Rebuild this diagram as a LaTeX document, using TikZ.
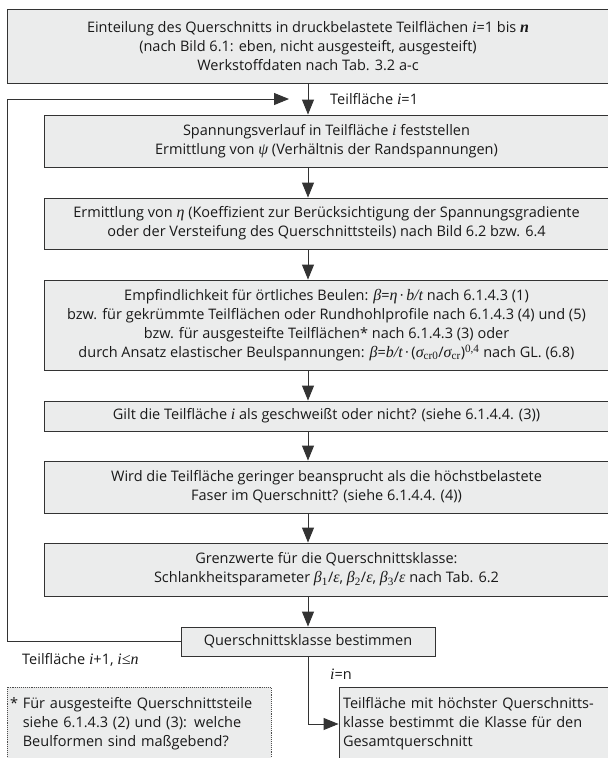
\documentclass[tikz,border=0pt]{standalone}
\usepackage{fontspec}
\usetikzlibrary{arrows.meta}
\setmainfont{Open Sans}
\newfontfamily\varfont[Scale=1.1]{Liberation Serif}
\newcommand{\mv}[1]{{\varfont\itshape #1}}
\newcommand{\up}[1]{{\varfont #1}}
\newcommand{\boxfont}{\fontsize{14.5}{19}\selectfont}
\definecolor{boxgray}{HTML}{EBECEC}
\definecolor{linegray}{HTML}{333333}

\begin{document}
\begin{tikzpicture}[x=1pt, y=-1pt,
	stepbox/.style={draw=linegray, fill=boxgray, line width=0.9pt, align=center, inner sep=0pt, font=\boxfont, text=black!90},
	flow/.style={draw=linegray, line width=0.9pt, -{Triangle[length=15pt, width=12pt]}},
	lbl/.style={font=\boxfont, anchor=west, inner sep=0pt, text=black!90}]
	\useasboundingbox (0,0) rectangle (608,758);
	% Ablauf: Querschnittsklasse je Teilflaeche
	\coordinate (axis) at (308,0);
	\node[stepbox, minimum width=602, minimum height=74] (einteilung) at (308,46) {Einteilung des Querschnitts in druckbelastete Teilflächen \mv{i}=1 bis \mv{\bfseries n}\\(nach Bild 6.1: eben, nicht ausgesteift, ausgesteift)\\Werkstoffdaten nach Tab. 3.2 a-c};
	\node[stepbox, minimum width=565, minimum height=52] (spannung) at (326.5,141) {Spannungsverlauf in Teilfläche \mv{i} feststellen\\Ermittlung von \mv{ψ} (Verhältnis der Randspannungen)};
	\node[stepbox, minimum width=565, minimum height=51] (eta) at (326.5,223.5) {Ermittlung von \mv{η} (Koeffizient zur Berücksichtigung der Spannungsgradiente\\oder der Versteifung des Querschnittsteils) nach Bild 6.2 bzw. 6.4};
	\node[stepbox, minimum width=565, minimum height=90] (beulen) at (326.5,325) {Empfindlichkeit für örtliches Beulen: \mv{β}=\mv{η}\,·\,\mv{b/t} nach 6.1.4.3 (1)\\bzw. für gekrümmte Teilflächen oder Rundhohlprofile nach 6.1.4.3 (4) und (5)\\bzw. für ausgesteifte Teilflächen* nach 6.1.4.3 (3) oder\\durch Ansatz elastischer Beulspannungen: \mv{β}=\mv{b/t}\,·\,(\mv{σ}\up{\textsubscript{cr0}}/\mv{σ}\up{\textsubscript{cr}})\up{\textsuperscript{0,4}} nach GL. (6.8)};
	\node[stepbox, minimum width=565, minimum height=30] (geschweisst) at (326.5,416) {Gilt die Teilfläche \mv{i} als geschweißt oder nicht? (siehe 6.1.4.4. (3))};
	\node[stepbox, minimum width=565, minimum height=52] (faser) at (326.5,487) {Wird die Teilfläche geringer beansprucht als die höchstbelastete\\Faser im Querschnitt? (siehe 6.1.4.4. (4))};
	\node[stepbox, minimum width=565, minimum height=53] (grenz) at (326.5,569.5) {Grenzwerte für die Querschnittsklasse:\\Schlankheitsparameter \mv{β}\up{\textsubscript{1}}/\mv{ε}, \mv{β}\up{\textsubscript{2}}/\mv{ε}, \mv{β}\up{\textsubscript{3}}/\mv{ε} nach Tab. 6.2};
	\node[stepbox, minimum width=254, minimum height=29] (klasse) at (308,641.5) {Querschnittsklasse bestimmen};
	\node[stepbox, minimum width=271, minimum height=74, align=left, text width=263, inner xsep=4] (gesamt) at (474.5,724) {Teilfläche mit höchster Querschnitts-\\klasse bestimmt die Klasse für den\\Gesamtquerschnitt};
	\node[stepbox, draw=black!70, densely dotted, line width=0.7pt, minimum width=264, minimum height=74, align=left, text width=258, inner xsep=3] (fussnote) at (139,724) {*~Für ausgesteifte Querschnittsteile\\\phantom{*~}siehe 6.1.4.3 (2) und (3): welche\\\phantom{*~}Beulformen sind maßgebend?};
	
	\coordinate (loopleft) at (7,99);
	\coordinate (loopend) at (289,99);
	\draw[flow] (einteilung.south) -- (einteilung.south |- spannung.north);
	\draw[flow] (spannung.south -| axis) -- (eta.north -| axis);
	\draw[flow] (eta.south -| axis) -- (beulen.north -| axis);
	\draw[flow] (beulen.south -| axis) -- (geschweisst.north -| axis);
	\draw[flow] (geschweisst.south -| axis) -- (faser.north -| axis);
	\draw[flow] (faser.south -| axis) -- (grenz.north -| axis);
	\draw[flow] (grenz.south -| axis) -- (klasse.north);
	\draw[flow] (klasse.west) -| (loopleft) -- (loopend);
	\draw[flow] (klasse.south) |- (gesamt.west);
	
	\node[lbl] (start) at (330,99) {Teilfläche \mv{i}=1};
	\node[lbl] (weiter) at (22,660) {Teilfläche \mv{i}+1, \mv{i≤n}};
	\node[lbl] (ende) at (330,674) {\mv{i}=n};
\end{tikzpicture}
\end{document}
